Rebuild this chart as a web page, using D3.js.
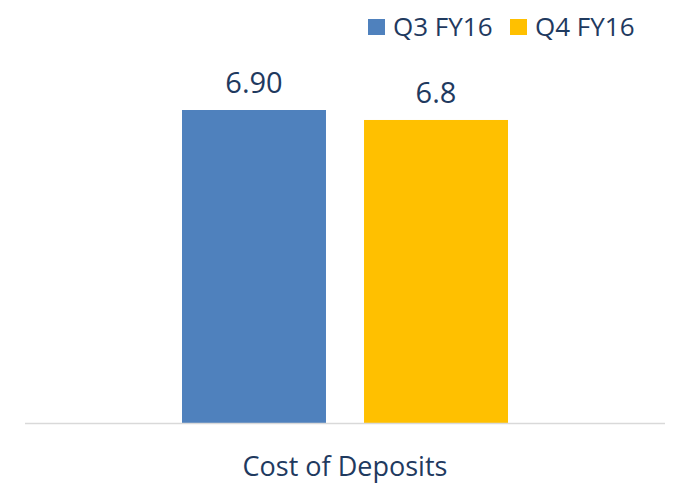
<!DOCTYPE html>
<html>
<head>
<meta charset="utf-8">
<script src="https://cdn.jsdelivr.net/npm/d3@7"></script>
<style>
  body { margin: 0; background: #fff; }
  text { font-family: "Open Sans", "Noto Sans", sans-serif; fill: #1f3a5f; }
</style>
</head>
<body>
<div id="chart"></div>
<script>
// data
var category = "Cost of Deposits";
var seriesNames = ["Q3 FY16", "Q4 FY16"];
var values = [6.90, 6.68];
var valueLabels = ["6.90", "6.8"];
var colors = ["#4f81bd", "#ffc000"];

var width = 675, height = 483;
var baseY = 423;

var svg = d3.select("#chart").append("svg")
    .attr("width", width)
    .attr("height", height);

// category band + series band
var x0 = d3.scaleBand()
  .domain([category])
  .range([25, 665]);

var x1 = d3.scaleBand()
  .domain(seriesNames)
  .range([182, 508])
  .paddingInner(0.209);

var y = d3.scaleLinear()
  .domain([0, 6.90])
  .range([baseY, 110]);

svg.selectAll("rect.bar")
  .data(seriesNames)
  .enter().append("rect")
    .attr("class", "bar")
    .attr("x", function(d) { return x1(d); })
    .attr("y", function(d, i) { return y(values[i]); })
    .attr("width", x1.bandwidth())
    .attr("height", function(d, i) { return baseY - y(values[i]); })
    .attr("fill", function(d, i) { return colors[i]; });

// value labels
svg.selectAll("text.val")
  .data(seriesNames)
  .enter().append("text")
    .attr("class", "val")
    .attr("x", function(d) { return x1(d) + x1.bandwidth() / 2; })
    .attr("y", function(d, i) { return y(values[i]) - 17; })
    .attr("text-anchor", "middle")
    .style("font-size", "29px")
    .text(function(d, i) { return valueLabels[i]; });

// axis line
svg.append("line")
  .attr("x1", x0.range()[0])
  .attr("x2", x0.range()[1])
  .attr("y1", baseY + 0.5)
  .attr("y2", baseY + 0.5)
  .attr("stroke", "#d9d9d9")
  .attr("stroke-width", 1.5);

svg.append("text")
  .attr("x", x0(category) + x0.bandwidth() / 2)
  .attr("y", 476)
  .attr("text-anchor", "middle")
  .style("font-size", "27px")
  .text(category);

// legend
var legendX = [368, 510];
var legend = svg.selectAll("g.legend")
  .data(seriesNames)
  .enter().append("g")
    .attr("class", "legend")
    .attr("transform", function(d, i) { return "translate(" + legendX[i] + ",19)"; });

legend.append("rect")
  .attr("width", 17)
  .attr("height", 16)
  .attr("fill", function(d, i) { return colors[i]; });

legend.append("text")
  .attr("x", 25)
  .attr("y", 17)
  .style("font-size", "26px")
  .text(function(d) { return d; });
</script>
</body>
</html>
